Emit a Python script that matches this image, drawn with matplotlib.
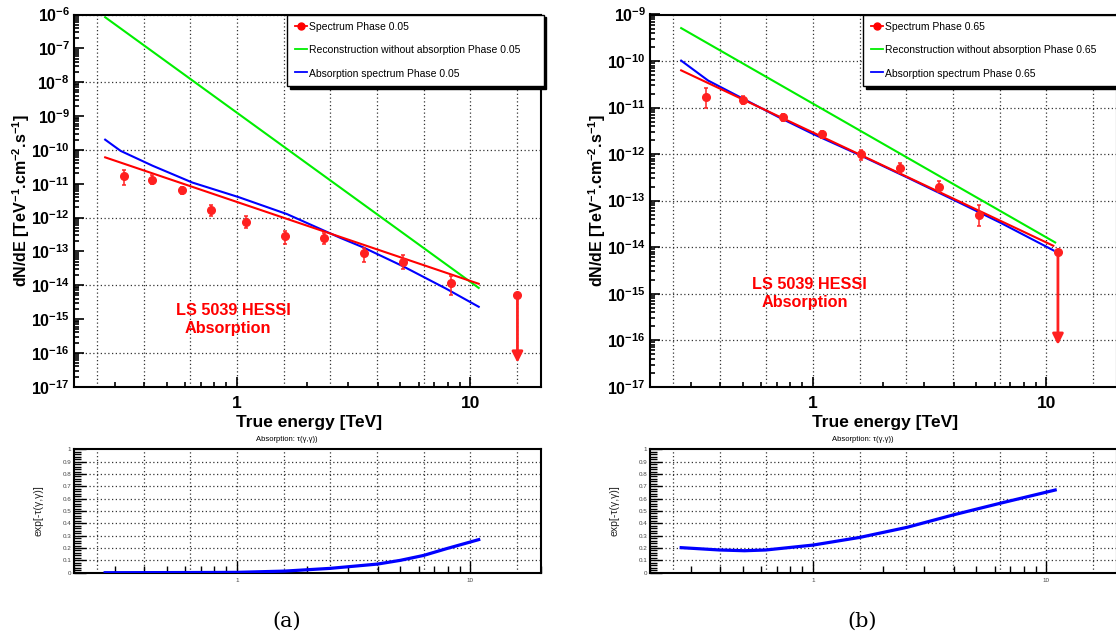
import numpy as np
import matplotlib
matplotlib.use("Agg")
import matplotlib.pyplot as plt
from matplotlib.lines import Line2D
from matplotlib.ticker import LogLocator, MultipleLocator, NullFormatter, FuncFormatter

plt.rcParams['font.family'] = ['Liberation Sans', 'DejaVu Sans']

# ---- phase 0.05 (panel a) ----
a_pts_e = [0.327, 0.433, 0.578, 0.776, 1.096, 1.61, 2.36, 3.50, 5.15, 8.24]
a_pts_f = [1.73e-11, 1.29e-11, 6.6e-12, 1.69e-12, 7.6e-13, 2.9e-13, 2.4e-13, 8.9e-14, 5.0e-14, 1.2e-14]
a_pts_hi = [2.54e-11, 1.8e-11, 8.1e-12, 2.4e-12, 1.12e-12, 4.1e-13, 3.5e-13, 1.25e-13, 7.6e-14, 1.9e-14]
a_pts_lo = [9.1e-12, 9.6e-12, 5.0e-12, 1.12e-12, 4.9e-13, 1.7e-13, 1.65e-13, 5.0e-14, 3.1e-14, 5.2e-15]
a_ul_e = [15.9]
a_ul_f = [5.1e-15]
a_ul_tip = [5.1e-17]
a_fit_e = [0.272, 10.85]
a_fit_f = [6.0e-11, 1.1e-14]
a_noabs_e = [0.272, 10.85]
a_noabs_f = [8.3e-7, 8.3e-15]
a_abs_e = [0.272, 0.29, 0.317, 0.434, 0.643, 1.016, 1.637, 2.77, 3.48, 5.15, 7.89, 10.85]
a_abs_f = [2.0e-10, 1.45e-10, 9.3e-11, 3.4e-11, 1.08e-11, 4.0e-12, 1.26e-12, 2.5e-13, 1.3e-13, 3.6e-14, 7.8e-15, 2.3e-15]
a_tau_e = [0.272, 0.5, 0.8, 1.0, 1.6, 2.5, 4.0, 5.0, 6.3, 7.9, 10.85]
a_tau_v = [0.0, 0.001, 0.002, 0.003, 0.013, 0.035, 0.07, 0.10, 0.14, 0.195, 0.268]

# ---- phase 0.65 (panel b) ----
b_pts_e = [0.347, 0.50, 0.743, 1.09, 1.60, 2.36, 3.47, 5.14]
b_pts_f = [1.7e-11, 1.44e-11, 6.2e-12, 2.7e-12, 1.0e-12, 5.0e-13, 2.0e-13, 4.95e-14]
b_pts_hi = [2.6e-11, 1.76e-11, 7.3e-12, 3.2e-12, 1.25e-12, 6.5e-13, 2.7e-13, 7.9e-14]
b_pts_lo = [9.6e-12, 1.17e-11, 5.1e-12, 2.2e-12, 7.6e-13, 3.9e-13, 1.55e-13, 2.8e-14]
b_ul_e = [11.2]
b_ul_f = [7.8e-15]
b_ul_tip = [7.9e-17]
b_fit_e = [0.272, 10.7]
b_fit_f = [6.3e-11, 1.07e-14]
b_noabs_e = [0.272, 10.9]
b_noabs_f = [5.1e-10, 1.26e-14]
b_abs_e = [0.272, 0.355, 0.501, 0.708, 1.0, 1.585, 2.512, 3.981, 6.31, 10.72]
b_abs_f = [1.02e-10, 3.8e-11, 1.55e-11, 6.3e-12, 2.7e-12, 9.5e-13, 3.2e-13, 1.05e-13, 3.4e-14, 8.5e-15]
b_tau_e = [0.272, 0.398, 0.508, 0.627, 1.0, 1.585, 2.53, 3.98, 6.31, 10.9]
b_tau_v = [0.203, 0.184, 0.178, 0.184, 0.224, 0.286, 0.368, 0.468, 0.562, 0.670]

panels = [
    dict(phase='0.05', pts=(a_pts_e, a_pts_f, a_pts_lo, a_pts_hi), ul=(a_ul_e, a_ul_f, a_ul_tip),
         fit=(a_fit_e, a_fit_f), noabs=(a_noabs_e, a_noabs_f), absn=(a_abs_e, a_abs_f),
         tau=(a_tau_e, a_tau_v), ylim=(1e-17, 1e-6), ygrid=range(-16, -5, 2),
         x0=74, txt=(0.2186, 0.1926, 0.238, 0.1451), cap='(a)', capx=287),
    dict(phase='0.65', pts=(b_pts_e, b_pts_f, b_pts_lo, b_pts_hi), ul=(b_ul_e, b_ul_f, b_ul_tip),
         fit=(b_fit_e, b_fit_f), noabs=(b_noabs_e, b_noabs_f), absn=(b_abs_e, b_abs_f),
         tau=(b_tau_e, b_tau_v), ylim=(1e-17, 1e-9), ygrid=range(-16, -8),
         x0=650, txt=(0.218, 0.2626, 0.2397, 0.2134), cap='(b)', capx=862),
]

W, H = 1116, 639
fig = plt.figure(figsize=(W / 100, H / 100), dpi=100)

red, green, blue = '#ff0000', '#00ee00', '#0000ff'
grid_kw = dict(color='#333333', lw=0.9, ls=(0, (1, 2)), zorder=0)
xgrid = 10 ** (np.arange(-3, 7) * 0.2)
pw = 466.7

for p in panels:
    # ---------- spectrum panel ----------
    ax = fig.add_axes([p['x0'] / W, 1 - 386.7 / H, pw / W, (386.7 - 14.5) / H])
    ax.set_xscale('log')
    ax.set_yscale('log')
    ax.set_xlim(0.2, 20)
    ax.set_ylim(*p['ylim'])
    for gx in xgrid:
        ax.axvline(gx, **grid_kw)
    for gy in p['ygrid']:
        ax.axhline(10.0 ** gy, **grid_kw)

    e, f = p['noabs']
    ax.plot(e, f, color=green, lw=1.5, zorder=3)
    e, f = p['fit']
    ax.plot(e, f, color=red, lw=1.5, zorder=4)
    e, f = p['absn']
    ax.plot(e, f, color=blue, lw=1.5, zorder=3)

    e, f, lo, hi = p['pts']
    f = np.array(f)
    yerr = [f - np.array(lo), np.array(hi) - f]
    ax.errorbar(e, f, yerr=yerr, fmt='o', color='#ff2020', ms=5.5, elinewidth=1.1,
                capsize=1.6, capthick=1.1, zorder=5)
    ue, uf, ut = p['ul']
    ax.plot(ue, uf, 'o', color='#ff2020', ms=5.5, zorder=5)
    for xe, yf, yt in zip(ue, uf, ut):
        ax.annotate('', xy=(xe, yt), xytext=(xe, yf),
                    arrowprops=dict(arrowstyle='-|>', color='#ff2020', lw=2,
                                    mutation_scale=16, shrinkA=0, shrinkB=0), zorder=5)

    ax.set_xticks([1, 10], ['1', '10'])
    ax.xaxis.set_minor_locator(LogLocator(base=10, subs=np.arange(2, 10), numticks=50))
    ax.xaxis.set_minor_formatter(NullFormatter())
    ax.set_yticks(10.0 ** np.arange(int(np.log10(p['ylim'][0])), int(np.log10(p['ylim'][1])) + 1))
    ax.yaxis.set_minor_locator(LogLocator(base=10, subs=np.arange(2, 10), numticks=100))
    ax.yaxis.set_minor_formatter(NullFormatter())
    ax.tick_params(which='both', direction='in', width=1.2, top=False, right=False)
    ax.tick_params(which='major', length=7.5, labelsize=11.5, pad=3)
    ax.tick_params(axis='x', which='major', pad=6.5, labelsize=12.5)
    ax.tick_params(which='minor', length=3.8)
    for lab in ax.get_xticklabels() + ax.get_yticklabels():
        lab.set_fontweight('bold')
    for s in ax.spines.values():
        s.set_linewidth(1.5)

    ax.text(0.5035, -0.095, 'True energy [TeV]', transform=ax.transAxes, ha='center', va='center',
            fontsize=12.5, fontweight='bold')
    ax.text(-0.113, 0.5, r'dN/dE [TeV$^{\mathdefault{-1}}$.cm$^{\mathdefault{-2}}$.s$^{\mathdefault{-1}}$]',
            transform=ax.transAxes, rotation=90, ha='center', va='center',
            fontsize=11.5, fontweight='bold')
    tx1, ty1, tx2, ty2 = p['txt']
    ax.text(tx1, ty1, 'LS 5039 HESSI', transform=ax.transAxes, color=red, fontsize=11.7,
            fontweight='bold', va='baseline')
    ax.text(tx2, ty2, 'Absorption', transform=ax.transAxes, color=red, fontsize=11.7,
            fontweight='bold', va='baseline')

    handles = [Line2D([], [], color=red, marker='o', ms=5, lw=1.3),
               Line2D([], [], color=green, lw=1.3),
               Line2D([], [], color=blue, lw=1.3)]
    labels = ['Spectrum Phase ' + p['phase'],
              'Reconstruction without absorption Phase ' + p['phase'],
              'Absorption spectrum Phase ' + p['phase']]
    leg = ax.legend(handles, labels, loc='upper left', bbox_to_anchor=(0.457, 1.0, 0.543 + 0.006, 0),
                    mode='expand', borderaxespad=0, fontsize=7.5, frameon=True, fancybox=False,
                    shadow={'color': 'black', 'alpha': 1}, edgecolor='black',
                    handlelength=1.2, handletextpad=0.15, borderpad=0.7,
                    handleheight=1.0, labelspacing=1.25)
    leg.get_frame().set_linewidth(1.0)
    leg.set_zorder(10)

    # ---------- absorption panel ----------
    bx = fig.add_axes([p['x0'] / W, 1 - 572.7 / H, pw / W, (572.7 - 449.3) / H])
    bx.set_xscale('log')
    bx.set_xlim(0.2, 20)
    bx.set_ylim(0, 1)
    for gx in xgrid:
        bx.axvline(gx, **grid_kw)
    for gy in np.arange(1, 10) * 0.1:
        bx.axhline(gy, **grid_kw)
    e, v = p['tau']
    bx.plot(e, v, color=blue, lw=2.3, zorder=3)
    bx.set_xticks([1, 10], ['1', '10'])
    bx.xaxis.set_minor_locator(LogLocator(base=10, subs=np.arange(2, 10), numticks=50))
    bx.xaxis.set_minor_formatter(NullFormatter())
    bx.yaxis.set_major_locator(MultipleLocator(0.1))
    bx.yaxis.set_minor_locator(MultipleLocator(0.02))
    bx.yaxis.set_major_formatter(FuncFormatter(lambda v, _: f'{v:.1f}'.rstrip('0').rstrip('.') if v else '0'))
    bx.tick_params(which='both', direction='in', width=1.0, top=False, right=False,
                   labelsize=4.5, labelcolor='#444444', pad=2)
    bx.tick_params(axis='x', which='major', pad=4)
    bx.tick_params(which='major', length=8.5)
    bx.tick_params(which='minor', length=5)
    for s in bx.spines.values():
        s.set_linewidth(1.5)
    bx.text(0.456, 1.083, 'Absorption: τ(γ,γ))', transform=bx.transAxes, ha='center', va='center',
            fontsize=5.5)
    bx.text(-0.077, 0.5, 'exp[-τ(γ,γ)]', transform=bx.transAxes, rotation=90, ha='center',
            va='center', fontsize=7.5, color='#222222')

    fig.text(p['capx'] / W, 1 - 621 / H, p['cap'], ha='center', va='center', fontsize=15,
             family='DejaVu Serif')

fig.savefig('out.png', dpi=100)
